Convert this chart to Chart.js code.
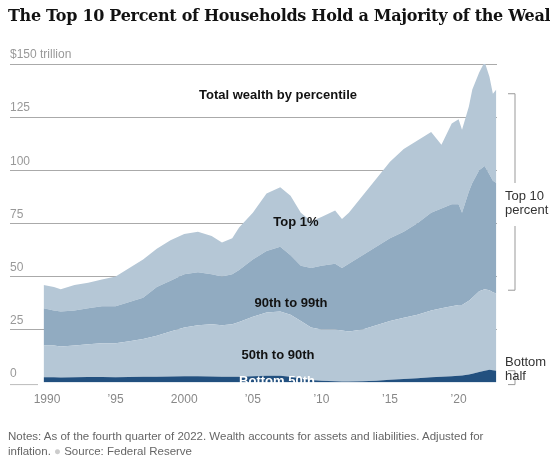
<!DOCTYPE html>
<html><head><meta charset="utf-8">
<script src="https://cdn.jsdelivr.net/npm/chart.js@4"></script>
<style>
body{margin:0;width:550px;height:465px;position:relative;font-family:"Liberation Sans",Arial,sans-serif;background:#fff;overflow:hidden}
#c{position:absolute;left:0;top:0}
.t{position:absolute;white-space:nowrap}
.title{left:8px;top:6px;font-family:"DejaVu Serif","Liberation Serif",serif;font-weight:bold;font-size:16px;color:#121212;letter-spacing:-0.3px}
.lab{font-weight:bold;font-size:13px;color:#121212;transform:translate(-50%,-50%)}
.side{font-size:13px;color:#333;line-height:14px}
.note{left:8px;font-size:11.5px;color:#666}
</style></head><body>
<canvas id="c" width="550" height="465"></canvas>
<div class="t title">The Top 10 Percent of Households Hold a Majority of the Wealth</div>
<div class="t lab" style="left:278px;top:94px">Total wealth by percentile</div>
<div class="t lab" style="left:296px;top:221px">Top 1%</div>
<div class="t lab" style="left:291px;top:302px">90th to 99th</div>
<div class="t lab" style="left:278px;top:354px">50th to 90th</div>
<div class="t lab" style="left:277px;top:380px;color:#fff">Bottom 50th</div>
<div class="t side" style="left:505px;top:189px">Top 10<br>percent</div>
<div class="t side" style="left:505px;top:355px">Bottom<br>half</div>
<div class="t note" style="top:430px">Notes: As of the fourth quarter of 2022. Wealth accounts for assets and liabilities. Adjusted for</div>
<div class="t note" style="top:445px">inflation. <span style="color:#ccc">●</span> Source: Federal Reserve</div>
<script>
const years=[1989.75,1990.5,1991,1992,1993,1994,1995,1996,1997,1998,1999,2000,2001,2002,2002.75,2003.5,2004,2005,2006,2007,2007.75,2008.5,2009.25,2010,2011,2011.5,2012,2013,2014,2015,2016,2017,2018,2018.75,2019.5,2020,2020.25,2020.75,2021,2021.5,2021.9,2022.25,2022.5,2022.75];
// cumulative tops of each band ($ trillion)
const bottom50=[2.5,2.5,2.4,2.5,2.6,2.6,2.5,2.6,2.7,2.8,2.9,3.0,3.0,2.9,2.8,2.7,2.8,3.0,3.2,3.2,2.8,2.0,1.2,0.9,0.6,0.5,0.5,0.6,0.9,1.3,1.7,2.1,2.5,2.7,3.0,3.2,3.3,3.8,4.2,5.0,5.6,6.0,5.8,5.6];
const upTo90=[17.5,17.5,17,17.5,18,18.5,18.5,19.5,20.5,22,24,26,27,27.5,27,27.5,28.5,31,33,33.5,32,29,26,25,25,24.5,24,25,27,29,30.5,32,34,35,36,36.5,36.5,38.5,40,43,44,43.5,42.5,42];
const upTo99=[35,34,33.5,34,35,36,36,38,40,45,48,51,52,51,50,51,53,58,62,64,60,55,54,55,56,54,56,60,64,68,71,75,80,82,84,84,80,90,94,100,102,98,95,94];
const total=[46,45,44,46,47,48.5,50,54,58,63,67,70,71,69,66,68,73,80,89,92,88,80,76,78,81,77,80,88,96,104,110,114,118,112,122,124,119,130,138,146,151,144,136,138];
const xTicks=[1990,1995,2000,2005,2010,2015,2020];
const xLabels=["1990","’95","2000","’05","’10","’15","’20"];

const pts=a=>years.map((x,i)=>({x,y:a[i]}));
const ds=(label,a,color,fill)=>({label,data:pts(a),backgroundColor:color,borderWidth:0,pointRadius:0,fill,tension:0});
const bracket={id:'br',afterDraw(ch){const c=ch.ctx,y=ch.scales.y;c.save();c.strokeStyle='#999';c.lineWidth=1;
 const x=515,a=y.getPixelForValue(136),b=y.getPixelForValue(43.5);
 c.beginPath();c.moveTo(x-7,a);c.lineTo(x,a);c.lineTo(x,183);c.moveTo(x,226);c.lineTo(x,b);c.lineTo(x-7,b);
 const z=y.getPixelForValue(0),q=y.getPixelForValue(5.6);c.moveTo(x-7,q);c.lineTo(x,q);c.lineTo(x,z+2);c.lineTo(x-7,z+2);c.stroke();
 c.strokeStyle='#bbb';c.beginPath();c.moveTo(10,z+2);c.lineTo(38,z+2);c.stroke();c.restore();}};
new Chart(document.getElementById('c'),{type:'line',
data:{datasets:[
 ds('Bottom 50th',bottom50,'#22507f','origin'),
 ds('50th to 90th',upTo90,'#b5c7d6','-1'),
 ds('90th to 99th',upTo99,'#91abc1','-1'),
 ds('Top 1%',total,'#b5c7d6','-1')]},
options:{responsive:false,animation:false,
 layout:{padding:{left:10,right:53,top:64,bottom:56}},
 plugins:{legend:{display:false},tooltip:{enabled:false}},
 scales:{
  x:{type:'linear',min:1987.3,max:2022.8,border:{display:false},grid:{display:false},
   afterBuildTicks:s=>{s.ticks=xTicks.map(v=>({value:v}))},
   ticks:{autoSkip:false,maxRotation:0,padding:2,color:'#888',font:{family:'Liberation Sans',size:12},callback:(v)=>xLabels[xTicks.indexOf(v)]}},
  y:{min:0,max:150,border:{display:false},
   grid:{color:c=>c.tick&&c.tick.value===0?'rgba(0,0,0,0)':'#aaa',borderDash:[1,2],drawTicks:false},
   ticks:{stepSize:25,mirror:true,labelOffset:-9,padding:0,color:'#999',font:{family:'Liberation Sans',size:12},
    callback:v=>v===150?'$150 trillion':String(v)}}}},
plugins:[bracket]});
</script></body></html>
